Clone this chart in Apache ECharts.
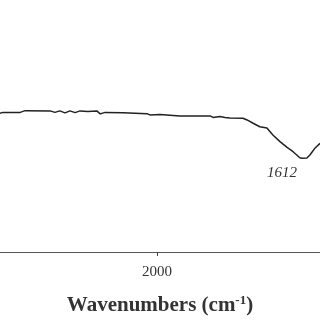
<!DOCTYPE html>
<html>
<head>
<meta charset="utf-8">
<script src="https://cdn.jsdelivr.net/npm/echarts@6/dist/echarts.min.js"></script>
<style>
  html, body { margin: 0; padding: 0; background: #fff; }
  #chart { width: 320px; height: 320px; }
</style>
</head>
<body>
<div id="chart"></div>
<script>
// FTIR spectrum
var wavenumbers = [2420, 2412, 2366, 2353, 2286, 2273, 2260, 2246, 2233, 2219, 2206, 2185, 2161, 2152, 2139, 2091, 2086, 2027, 2019,
    1992, 1939, 1858, 1850, 1832, 1818, 1805, 1770, 1759, 1743, 1725, 1706, 1690, 1671, 1652, 1636, 1618, 1612, 1599, 1591, 1577, 1564];
var transmittance = [55.0, 55.4, 55.4, 56.1, 56.0, 55.4, 56.0, 55.2, 56.0, 55.3, 56.0, 55.8, 56.0, 54.8, 55.4, 55.3, 54.9, 54.9, 54.4,
    54.6, 54.0, 54.0, 53.4, 53.8, 53.4, 53.2, 53.1, 52.4, 51.1, 49.7, 49.2, 46.4, 43.8, 41.5, 39.8, 37.4, 37.2, 37.3, 38.5, 41.3, 43.1];
var tickValues = [2000];
var peakLabel = 1612;

var seriesData = wavenumbers.map(function (w, i) { return [w, transmittance[i]]; });
var peakValue = transmittance[wavenumbers.indexOf(peakLabel)];

var chart = echarts.init(document.getElementById('chart'));
chart.setOption({
    animation: false,
    grid: { left: 0, right: 0, top: 0, bottom: 68, outerBoundsMode: 'none' },
    xAxis: {
        type: 'value',
        inverse: true,
        min: 1564,
        max: 2420,
        splitLine: { show: false },
        axisLine: { lineStyle: { color: '#555', width: 1 } },
        axisTick: { customValues: tickValues, length: 4, lineStyle: { color: '#444' } },
        axisLabel: {
            customValues: tickValues,
            formatter: function (v) { return String(v); },
            margin: 13,
            fontFamily: 'Liberation Serif',
            fontSize: 15,
            color: '#333'
        },
        name: '{a|Wavenumbers (cm}{s|-1}{a|)}',
        nameLocation: 'middle',
        nameGap: 42,
        nameTextStyle: {
            rich: {
                a: { fontFamily: 'Liberation Serif', fontWeight: 'bold', fontSize: 21, color: '#333' },
                s: { fontFamily: 'Liberation Serif', fontWeight: 'bold', fontSize: 13, color: '#333', verticalAlign: 'top', padding: [0, 0, 10, 0] }
            }
        }
    },
    yAxis: {
        type: 'value',
        min: 0,
        max: 100,
        show: false
    },
    series: [{
        type: 'line',
        data: seriesData,
        symbol: 'none',
        lineStyle: { color: '#222', width: 1.5 },
        markPoint: {
            symbol: 'circle',
            symbolSize: 0,
            data: [{ coord: [peakLabel, peakValue] }],
            label: {
                show: true,
                formatter: String(peakLabel),
                position: 'inside',
                offset: [-20, 15],
                fontFamily: 'Liberation Serif',
                fontStyle: 'italic',
                fontSize: 15,
                color: '#333'
            }
        }
    }]
});
</script>
</body>
</html>
